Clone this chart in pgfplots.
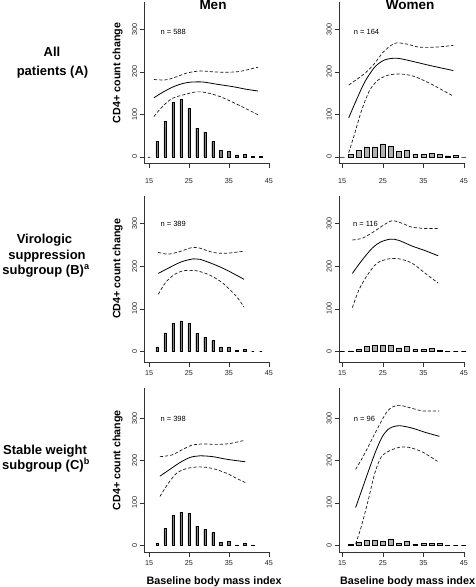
\documentclass[border=0pt]{standalone}
\usepackage{fontspec}
\setmainfont{Liberation Sans}
\usepackage{pgfplots}
\pgfplotsset{compat=1.18}
\pgfplotsset{
  panel/.style={scale only axis, axis x line*=bottom, axis y line*=left,
    axis line style={black!80, line width=0.6pt},
    tick style={black!80, line width=0.5pt}, tick align=outside,
    major tick length=4.5pt, xtick={15,25,35,45}, ytick={0,100,200,300},
    /pgf/number format/assume math mode=true,
    ticklabel style={font=\fontsize{7.2}{8}\selectfont, text=black!85},
    yticklabel style={rotate=90, anchor=south, inner sep=2.5pt},
    xticklabel style={inner sep=1.5pt},
    clip=false},
  men/.style={xmin=13.8, xmax=45.3, width=125.7pt},
  women/.style={xmin=14.2, xmax=45.3, width=126pt},
  ylab/.style={ylabel={CD4+ count change},
    ylabel style={font=\bfseries\fontsize{10.7}{12}\selectfont, at={(axis description cs:-0.212,0.56)}, anchor=center}},
  fit/.style={black, line width=0.8pt, smooth, no markers},
  ci/.style={black!90, line width=0.7pt, dash pattern=on 3.2pt off 2pt, smooth, no markers},
  menbar/.style={ybar, bar width=0.62, fill=black!50, draw=black, line width=0.4pt},
  wombar/.style={ybar, bar width=1.2, fill=black!30, draw=black, line width=0.4pt},
}
\tikzset{ntext/.style={anchor=west, font=\fontsize{7.5}{8}\selectfont}}
\begin{document}
\begin{tikzpicture}[x=1pt,y=1pt]
\useasboundingbox (0,0) rectangle (476,587);
% ---------- Row A, Men
\begin{axis}[panel, men, ylab, height=161.3pt, ymin=-14.8, ymax=364, at={(144.3pt,423.7pt)}, anchor=south west,
  xticklabel style={yshift=-9pt}]
\addplot[menbar] coordinates {(15,0)(17,36)(19,84)(21,128)(23,136)(25,115)(27,68)(29,59)(31,36)(33,16)(35,14)(37,5)(39,6)(41,1)(43,1)};
\addplot[fit] coordinates {(16.2,139)(18.6,153)(21.1,165)(23.6,173)(25.7,176)(28.6,176)(31.9,171)(36.1,165)(39.4,159)(42.3,155)};
\addplot[ci] coordinates {(16.2,182)(19,181)(21.5,187)(24.4,197)(27.75,202)(31.1,200)(34.4,199)(37.75,201)(42.3,211)};
\addplot[ci] coordinates {(16.2,95)(18.2,117)(20.7,137)(23.6,146)(26.9,153)(29.4,151)(32.75,142)(36.1,128)(39.4,113)(42.3,99)};
\node[ntext] at (axis cs:17,294) {n = 588};
\end{axis}
% ---------- Row A, Women
\begin{axis}[panel, women, height=161.3pt, ymin=-14.8, ymax=364, at={(339pt,423.7pt)}, anchor=south west,
  xticklabel style={yshift=-9pt}]
\addplot[wombar] coordinates {(15,0)(17,7)(19,16)(21,24)(23,24)(25,31)(27,26)(29,13)(31,16)(33,6)(35,6)(37,9)(39,6)(41,3)(43,4)(45,0)};
\addplot[fit] coordinates {(16.6,92)(18.5,134)(20.6,177)(23.1,212)(25.5,228)(28.4,232)(31.7,226)(36.6,215)(42.4,203)};
\addplot[ci] coordinates {(16.6,169)(19,185)(21,200)(23,220)(25,245)(27,262)(28.5,268)(31,265)(34,258)(38,258)(42.4,262)};
\addplot[ci] coordinates {(16.6,10)(18.1,56)(19.8,110)(21.8,157)(23.9,181)(26.3,192)(29.2,195)(32.5,190)(36.6,173)(42.4,143)};
\node[ntext] at (axis cs:17,294) {n = 164};
\end{axis}
% ---------- Row B, Men
\begin{axis}[panel, men, ylab, height=166.8pt, ymin=-24.8, ymax=365, at={(144.3pt,224.7pt)}, anchor=south west,
  xticklabel style={yshift=-2pt}]
\addplot[menbar] coordinates {(17,11)(19,44)(21,66)(23,72)(25,66)(27,43)(29,34)(31,26)(33,11)(35,11)(37,3)(39,6)(41,0)(43,0)};
\addplot[fit] coordinates {(17.3,183)(20.2,197)(23.1,210)(26.1,217)(27.7,216)(31,205)(34.4,191)(38.8,169)};
\addplot[ci] coordinates {(17.3,232)(19.8,228)(22.7,234)(25.6,243)(27.7,242)(31,232)(34.4,230)(38.8,235)};
\addplot[ci] coordinates {(17.3,134)(19,160)(21.1,179)(23.6,189)(26.9,189)(30.2,179)(33.5,160)(36.9,129)(38.8,104)};
\node[ntext] at (axis cs:17,298) {n = 389};
\end{axis}
% ---------- Row B, Women
\begin{axis}[panel, women, height=166.8pt, ymin=-24.8, ymax=365, at={(339pt,224.7pt)}, anchor=south west,
  xticklabel style={yshift=-2pt}]
\addplot[wombar] coordinates {(15,0)(17,2)(19,5)(21,13)(23,14)(25,16)(27,15)(29,9)(31,12)(33,5)(35,5)(37,7)(39,3)(41,0)(43,0)(45,0)};
\addplot[fit] coordinates {(17.5,183)(19.9,214)(22.4,242)(24.4,256)(26.9,263)(29,260)(32.2,247)(35.5,236)(38.7,224)};
\addplot[ci] coordinates {(17.5,261)(19.9,265)(22.4,278)(24.9,294)(27.3,306)(29.8,300)(32.2,291)(35.5,288)(38.7,288)};
\addplot[ci] coordinates {(17.5,103)(19.1,144)(21.2,179)(23.6,207)(26.5,217)(29,217)(32.2,207)(35.5,183)(38.7,160)};
\node[ntext] at (axis cs:16.8,298) {n = 116};
\end{axis}
% ---------- Row C, Men
\begin{axis}[panel, men, ylab, height=164.3pt, ymin=-16.5, ymax=371, at={(144.3pt,34.7pt)}, anchor=south west,
  xticklabel style={yshift=-2pt},
  xlabel={Baseline body mass index},
  xlabel style={font=\bfseries\fontsize{10.8}{12}\selectfont, at={(axis description cs:0.556,-0.179)}, anchor=center}]
\addplot[menbar] coordinates {(17,6)(19,40)(21,70)(23,78)(25,75)(27,45)(29,37)(31,30)(33,7)(35,10)(37,1)(39,5)(41,1)};
\addplot[fit] coordinates {(17.7,163)(20.2,179)(22.7,195)(25.2,207)(27.7,211)(31,209)(34.4,203)(39.1,197)};
\addplot[ci] coordinates {(17.7,209)(20.7,213)(23.2,225)(25.7,236)(28.6,239)(31.9,238)(35.2,240)(39.1,248)};
\addplot[ci] coordinates {(17.7,115)(19.8,146)(21.9,170)(24.4,181)(27.7,185)(31,181)(34.4,170)(36.9,158)(39.1,148)};
\node[ntext] at (axis cs:17,298) {n = 398};
\end{axis}
% ---------- Row C, Women
\begin{axis}[panel, women, height=164.3pt, ymin=-16.5, ymax=371, at={(339pt,34.7pt)}, anchor=south west,
  xticklabel style={yshift=-2pt},
  xlabel={Baseline body mass index},
  xlabel style={font=\bfseries\fontsize{10.8}{12}\selectfont, at={(axis description cs:0.544,-0.179)}, anchor=center}]
\addplot[wombar] coordinates {(17,2)(19,8)(21,12)(23,11)(25,9)(27,15)(29,5)(31,10)(33,3)(35,4)(37,4)(39,4)(41,0)(43,0)(45,0)};
\addplot[fit] coordinates {(18.3,89)(20,135)(21.8,184)(23.4,225)(25,258)(26.7,276)(29.1,282)(32.4,276)(35.6,266)(39,257)};
\addplot[ci] coordinates {(18.3,179)(20.3,212)(23.4,270)(26.2,317)(28.7,330)(31.5,325)(34.8,317)(39,317)};
\addplot[ci] coordinates {(18.3,3)(19.7,44)(21.4,106)(23,169)(24.6,208)(26.7,223)(29.1,231)(31.5,231)(34.8,220)(38.5,198)};
\node[ntext] at (axis cs:17,298) {n = 96};
\end{axis}
% ---------- Column titles and row labels
\node[font=\bfseries\fontsize{13.5}{15}\selectfont] at (213,582) {Men};
\node[font=\bfseries\fontsize{13.5}{15}\selectfont] at (410,582) {Women};
\begin{scope}[every node/.style={font=\bfseries\fontsize{13}{15}\selectfont, inner sep=0pt}]
\node at (52,535) {All};
\node at (52.5,515.3) {patients (A)};
\node at (44.5,347) {Virologic};
\node at (47,331) {suppression};
\node at (46,316.3) {subgroup (B)\textsuperscript{a}};
\node at (45,136) {Stable weight};
\node at (46,122) {subgroup (C)\textsuperscript{b}};
\end{scope}
\end{tikzpicture}
\end{document}
